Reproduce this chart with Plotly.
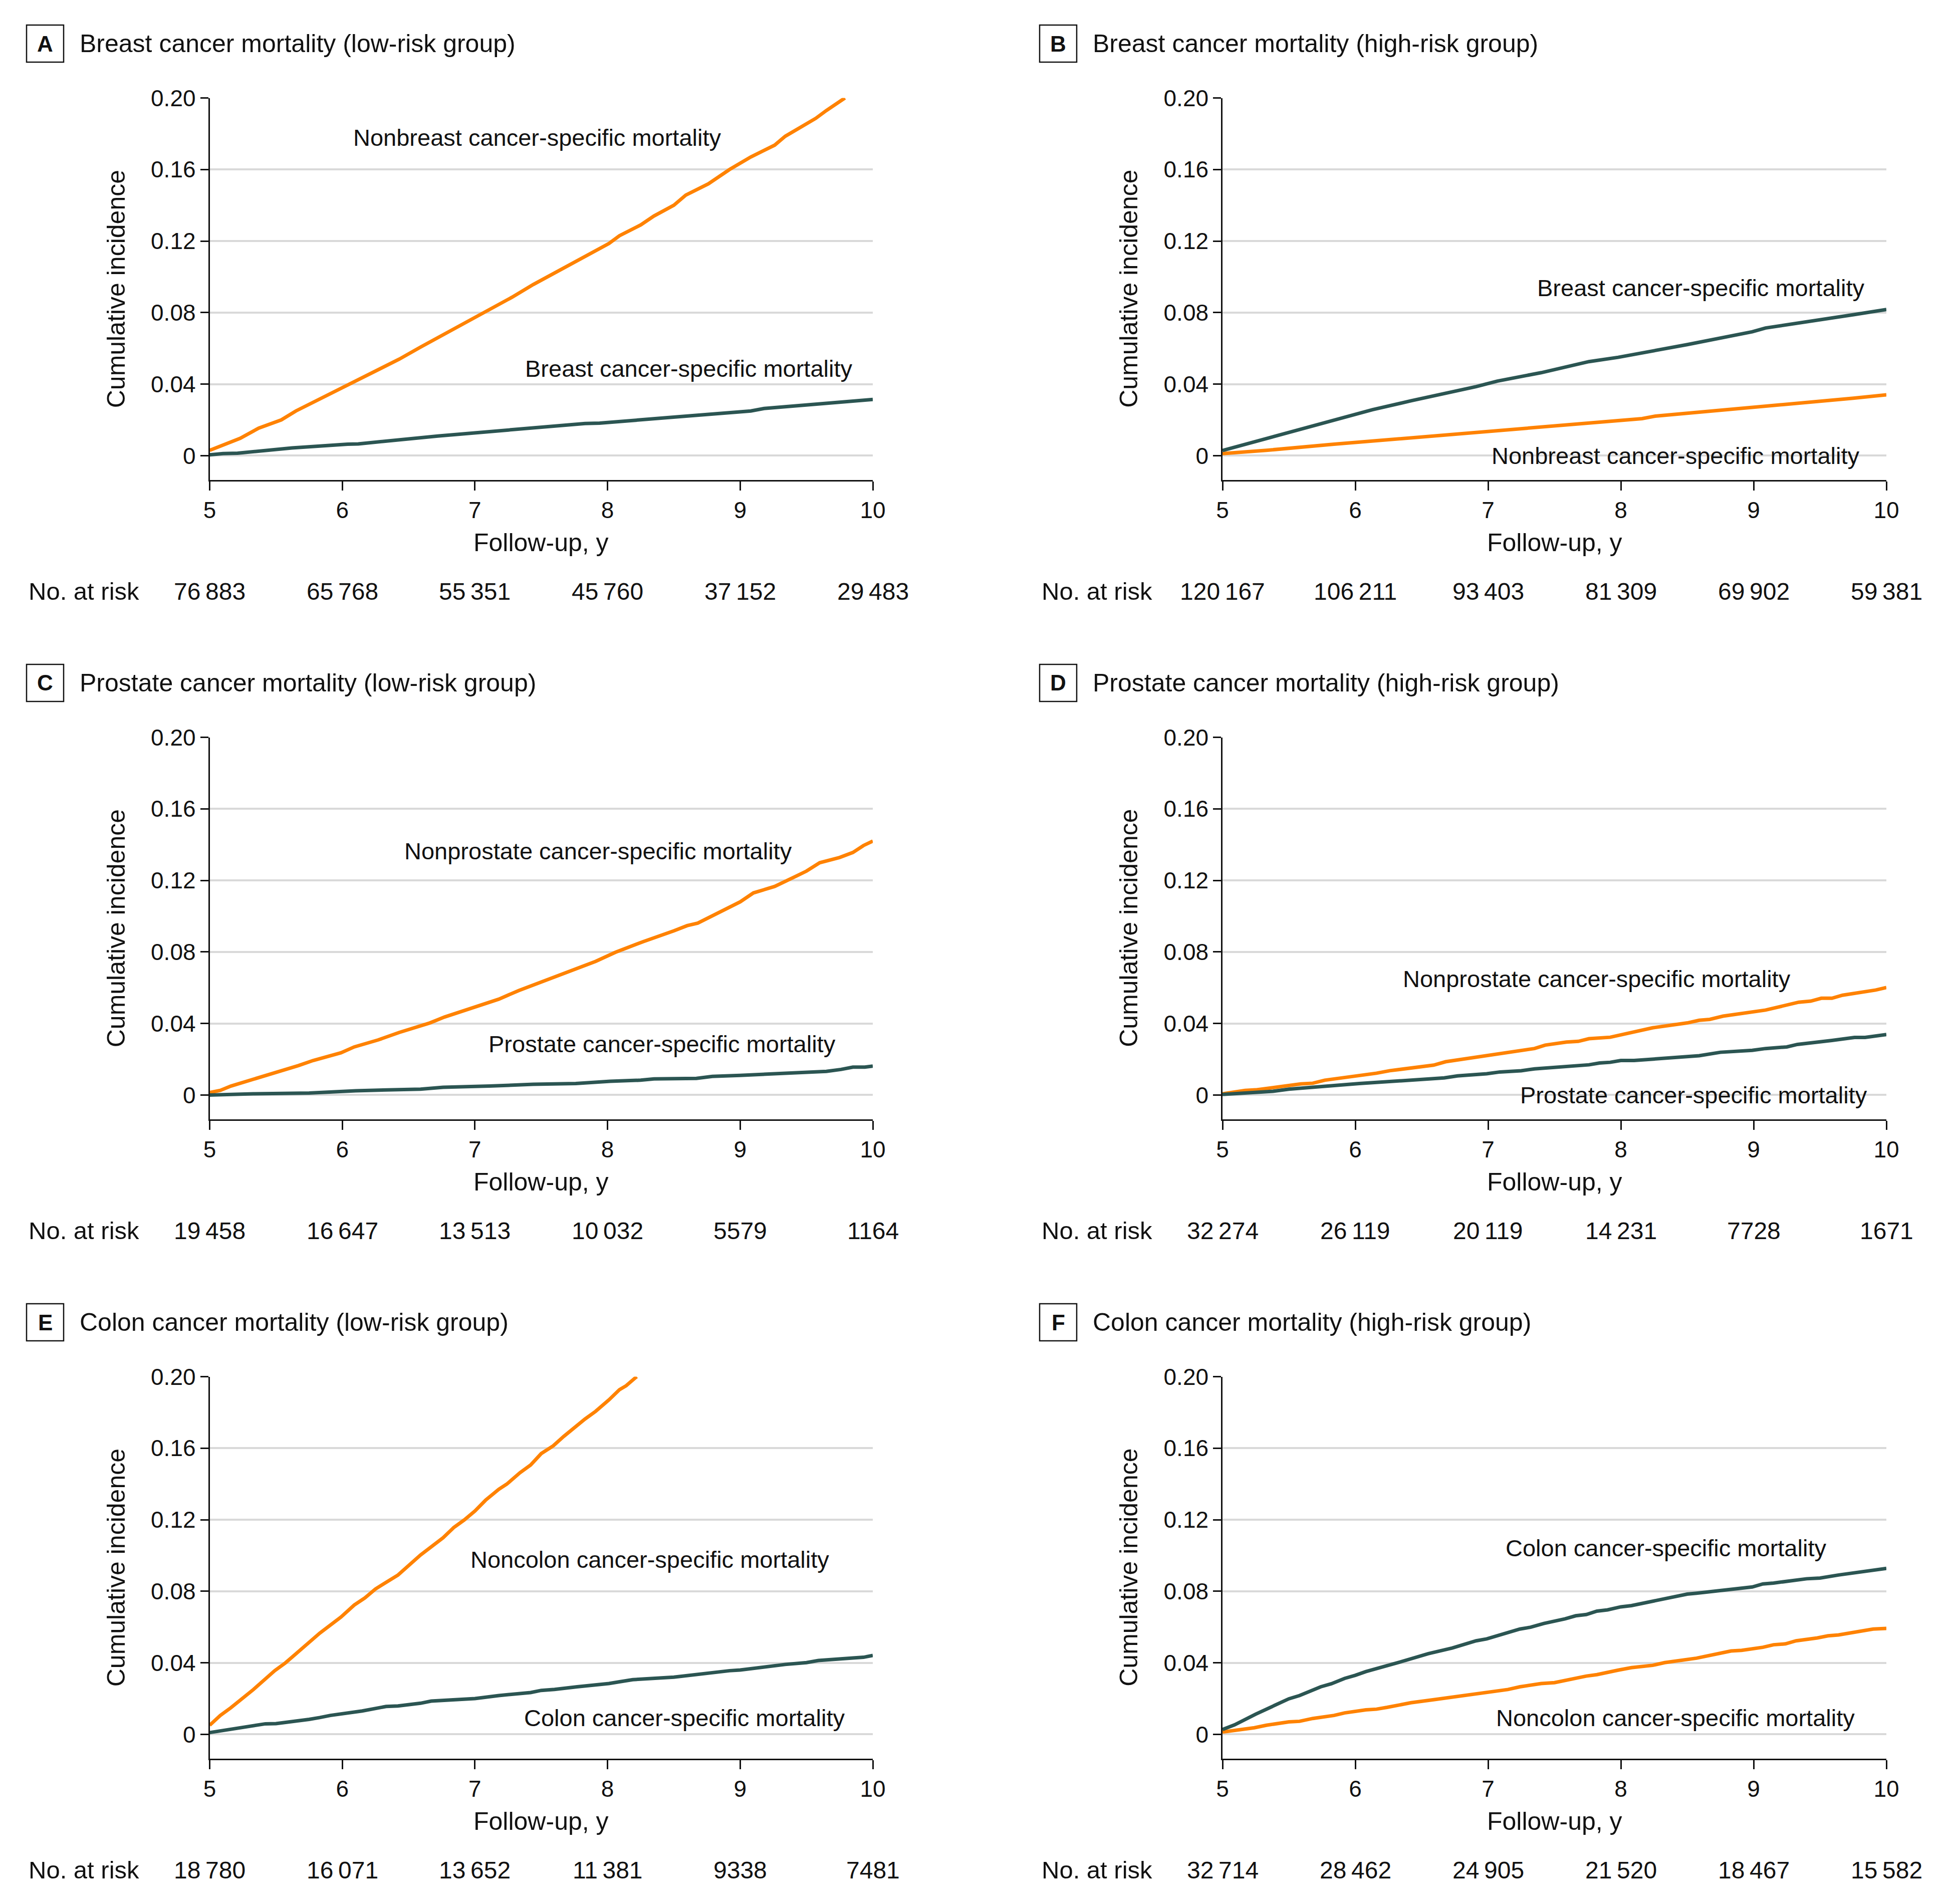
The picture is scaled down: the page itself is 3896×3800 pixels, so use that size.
import plotly.graph_objects as go

# ---------------- data ----------------
years = [5, 6, 7, 8, 9, 10]
y_ticks = [0, 0.04, 0.08, 0.12, 0.16, 0.20]
y_tick_text = ["0", "0.04", "0.08", "0.12", "0.16", "0.20"]

panel_letters = ["A", "B", "C", "D", "E", "F"]
panel_titles = [
    "Breast cancer mortality (low-risk group)",
    "Breast cancer mortality (high-risk group)",
    "Prostate cancer mortality (low-risk group)",
    "Prostate cancer mortality (high-risk group)",
    "Colon cancer mortality (low-risk group)",
    "Colon cancer mortality (high-risk group)",
]

at_risk = [
    ["76\u2009883", "65\u2009768", "55\u2009351", "45\u2009760", "37\u2009152", "29\u2009483"],
    ["120\u2009167", "106\u2009211", "93\u2009403", "81\u2009309", "69\u2009902", "59\u2009381"],
    ["19\u2009458", "16\u2009647", "13\u2009513", "10\u2009032", "5579", "1164"],
    ["32\u2009274", "26\u2009119", "20\u2009119", "14\u2009231", "7728", "1671"],
    ["18\u2009780", "16\u2009071", "13\u2009652", "11\u2009381", "9338", "7481"],
    ["32\u2009714", "28\u2009462", "24\u2009905", "21\u2009520", "18\u2009467", "15\u2009582"],
]

# Panel A
a_other_x = [5.0, 5.23, 5.37, 5.54, 5.65, 5.86, 6.01, 6.11, 6.27, 6.43, 6.59, 6.77, 6.87, 6.95, 7.05, 7.28, 7.44,
             7.6, 7.77, 8.01, 8.09, 8.25, 8.35, 8.5, 8.59, 8.76, 8.92, 9.08, 9.26, 9.34, 9.57, 9.65, 9.79]
a_other_y = [0.003, 0.0097, 0.0154, 0.020, 0.025, 0.0329, 0.0386, 0.042, 0.048, 0.054, 0.0607, 0.0679, 0.072, 0.075,
             0.079, 0.0886, 0.0957, 0.102, 0.109, 0.1186, 0.123, 0.129, 0.134, 0.140, 0.1457, 0.152, 0.160, 0.167,
             0.1736, 0.1786, 0.1886, 0.193, 0.200]
a_spec_x = [5.0, 5.1, 5.21, 5.62, 6.04, 6.12, 6.72, 7.08, 7.83, 7.94, 8.42, 8.51, 9.08, 9.18, 10.0]
a_spec_y = [0.0005, 0.0012, 0.0014, 0.0043, 0.0064, 0.0066, 0.011, 0.0133, 0.018, 0.0182, 0.0214, 0.0216, 0.025,
            0.0264, 0.0314]

# Panel B
b_spec_x = [5.0, 5.38, 5.77, 6.13, 6.42, 6.65, 6.91, 7.07, 7.4, 7.76, 7.98, 8.5, 8.73, 8.99, 9.09, 9.5, 9.76, 10.0]
b_spec_y = [0.0029, 0.0107, 0.0186, 0.0257, 0.0307, 0.0343, 0.0386, 0.0417, 0.0464, 0.0526, 0.055, 0.0621, 0.0657,
            0.0693, 0.0714, 0.0757, 0.0789, 0.0817]
b_other_x = [5.0, 5.25, 5.33, 5.84, 6.75, 6.85, 8.16, 8.26, 9.02, 9.67, 9.75, 10.0]
b_other_y = [0.0012, 0.0029, 0.0030, 0.0064, 0.0121, 0.0123, 0.0207, 0.0221, 0.0271, 0.0311, 0.0321, 0.034]

# Panel C
c_other_x = [5.0, 5.08, 5.16, 5.39, 5.5, 5.67, 5.78, 5.99, 6.09, 6.27, 6.43, 6.59, 6.66, 6.77, 7.08, 7.18, 7.33, 7.6,
             7.77, 7.91, 8.06, 8.17, 8.27, 8.5, 8.6, 8.68, 8.81, 9.0, 9.1, 9.26, 9.42, 9.5, 9.6, 9.75, 9.85, 9.93, 10.0]
c_other_y = [0.0014, 0.0026, 0.005, 0.010, 0.0129, 0.0165, 0.0193, 0.0236, 0.0269, 0.0308, 0.035, 0.0386, 0.0403,
             0.0436, 0.0515, 0.0536, 0.0584, 0.0658, 0.0708, 0.0747, 0.0798, 0.083, 0.0858, 0.0918, 0.0947, 0.0961,
             0.1009, 0.108, 0.113, 0.1166, 0.1223, 0.1252, 0.1299, 0.1328, 0.1356, 0.1395, 0.142]
c_spec_x = [5.0, 5.33, 5.75, 5.94, 6.1, 6.59, 6.76, 7.11, 7.44, 7.76, 8.02, 8.25, 8.35, 8.67, 8.79, 9.0, 9.36, 9.65,
            9.76, 9.85, 9.94, 10.0]
c_spec_y = [0.0, 0.0007, 0.0011, 0.0017, 0.0024, 0.0033, 0.0043, 0.005, 0.006, 0.0064, 0.0077, 0.0083, 0.009, 0.0093,
            0.0104, 0.011, 0.012, 0.0132, 0.0143, 0.0156, 0.0156, 0.0162]

# Panel D
d_other_x = [5.0, 5.17, 5.25, 5.42, 5.5, 5.59, 5.68, 5.77, 6.0, 6.1, 6.16, 6.26, 6.59, 6.68, 6.98, 7.17, 7.25, 7.35,
             7.43, 7.59, 7.68, 7.76, 7.92, 8.08, 8.24, 8.5, 8.59, 8.67, 8.77, 9.09, 9.25, 9.34, 9.43, 9.51, 9.59, 9.67,
             9.92, 10.0]
d_other_y = [0.0007, 0.0026, 0.0029, 0.0046, 0.0052, 0.0062, 0.0066, 0.0083, 0.0106, 0.0113, 0.0122, 0.0136, 0.0167,
             0.0186, 0.0217, 0.024, 0.0246, 0.026, 0.0279, 0.0296, 0.030, 0.0315, 0.0323, 0.035, 0.0376, 0.0403, 0.0418,
             0.0423, 0.0441, 0.0475, 0.050, 0.0519, 0.0525, 0.0541, 0.0541, 0.0558, 0.0587, 0.0601]
d_spec_x = [5.0, 5.38, 5.5, 5.77, 6.03, 6.67, 6.77, 6.99, 7.09, 7.25, 7.35, 7.76, 7.84, 7.92, 8.0, 8.1, 8.34, 8.42,
            8.5, 8.59, 8.75, 8.99, 9.09, 9.25, 9.33, 9.41, 9.51, 9.59, 9.76, 9.84, 10.0]
d_spec_y = [0.0003, 0.0021, 0.0033, 0.005, 0.0064, 0.0096, 0.0107, 0.0119, 0.0129, 0.0136, 0.0146, 0.0169, 0.0179,
            0.0183, 0.0193, 0.0193, 0.0206, 0.0206, 0.0215, 0.022, 0.0239, 0.025, 0.026, 0.0269, 0.0283, 0.0289, 0.030,
            0.0305, 0.0322, 0.0322, 0.0338]

# Panel E
e_other_x = [5.0, 5.08, 5.16, 5.33, 5.49, 5.57, 5.67, 5.83, 5.99, 6.09, 6.17, 6.25, 6.42, 6.59, 6.76, 6.84, 6.92,
             7.0, 7.08, 7.18, 7.24, 7.34, 7.42, 7.5, 7.59, 7.67, 7.83, 7.91, 8.01, 8.09, 8.14, 8.22]
e_other_y = [0.0051, 0.0106, 0.0149, 0.0251, 0.0356, 0.0399, 0.0463, 0.0566, 0.0656, 0.0723, 0.0763, 0.0813, 0.0891,
             0.1003, 0.1099, 0.1156, 0.1199, 0.1249, 0.1309, 0.137, 0.1399, 0.1463, 0.1506, 0.157, 0.1613, 0.1666,
             0.1763, 0.1806, 0.187, 0.1927, 0.1949, 0.200]
e_spec_x = [5.0, 5.33, 5.42, 5.5, 5.59, 5.67, 5.75, 5.83, 5.91, 6.15, 6.24, 6.33, 6.42, 6.59, 6.67, 6.76, 6.84, 6.92,
            7.0, 7.18, 7.26, 7.34, 7.42, 7.5, 7.6, 7.77, 7.83, 7.93, 8.01, 8.09, 8.19, 8.5, 8.68, 8.76, 8.92, 9.0, 9.2,
            9.34, 9.5, 9.59, 9.85, 9.93, 10.0]
e_spec_y = [0.001, 0.0046, 0.0059, 0.006, 0.0069, 0.0073, 0.0084, 0.0094, 0.0106, 0.0131, 0.0146, 0.0156, 0.0159,
            0.0174, 0.0186, 0.0189, 0.0196, 0.0196, 0.020, 0.0217, 0.0223, 0.0231, 0.0234, 0.0246, 0.0251, 0.0266,
            0.027, 0.028, 0.0284, 0.0294, 0.0306, 0.032, 0.0337, 0.0341, 0.0356, 0.036, 0.038, 0.0391, 0.0401, 0.0413,
            0.0427, 0.0431, 0.0441]

# Panel F
f_spec_x = [5.0, 5.09, 5.25, 5.42, 5.5, 5.58, 5.66, 5.74, 5.82, 5.92, 6.0, 6.08, 6.33, 6.55, 6.73, 6.91, 6.99, 7.24,
            7.32, 7.42, 7.58, 7.66, 7.74, 7.82, 7.9, 8.0, 8.08, 8.24, 8.41, 8.5, 8.57, 8.83, 8.91, 8.99, 9.07, 9.15,
            9.4, 9.5, 9.64, 9.9, 10.0]
f_spec_y = [0.0027, 0.0053, 0.0113, 0.017, 0.0199, 0.0217, 0.0244, 0.0266, 0.0283, 0.0313, 0.033, 0.0351, 0.0403,
            0.0451, 0.0483, 0.0523, 0.0534, 0.0589, 0.0599, 0.062, 0.0646, 0.0663, 0.067, 0.0689, 0.0696, 0.0713,
            0.072, 0.0746, 0.0774, 0.0784, 0.0789, 0.0813, 0.0817, 0.0824, 0.0841, 0.0846, 0.087, 0.0874, 0.0891,
            0.0917, 0.0928]
f_other_x = [5.0, 5.24, 5.33, 5.5, 5.58, 5.68, 5.84, 5.92, 6.08, 6.16, 6.24, 6.33, 6.42, 6.59, 6.75, 6.91, 7.07,
             7.15, 7.24, 7.4, 7.5, 7.58, 7.66, 7.74, 7.82, 7.9, 7.98, 8.08, 8.24, 8.33, 8.57, 8.83, 8.91, 9.07, 9.15,
             9.24, 9.32, 9.48, 9.56, 9.64, 9.82, 9.9, 10.0]
f_other_y = [0.0013, 0.0037, 0.0051, 0.007, 0.0073, 0.0089, 0.0106, 0.012, 0.0137, 0.0141, 0.0151, 0.0166, 0.0177,
             0.0194, 0.0211, 0.0229, 0.0246, 0.0251, 0.0266, 0.0284, 0.0289, 0.0303, 0.0313, 0.0326, 0.0334, 0.0349,
             0.0359, 0.0373, 0.0386, 0.0401, 0.0426, 0.0466, 0.047, 0.0487, 0.0501, 0.0506, 0.0523, 0.0539, 0.0551,
             0.0556, 0.0577, 0.0589, 0.0592]

specific_series = [(a_spec_x, a_spec_y), (b_spec_x, b_spec_y), (c_spec_x, c_spec_y),
                   (d_spec_x, d_spec_y), (e_spec_x, e_spec_y), (f_spec_x, f_spec_y)]
other_series = [(a_other_x, a_other_y), (b_other_x, b_other_y), (c_other_x, c_other_y),
                (d_other_x, d_other_y), (e_other_x, e_other_y), (f_other_x, f_other_y)]

specific_labels = ["Breast cancer-specific mortality", "Breast cancer-specific mortality",
                   "Prostate cancer-specific mortality", "Prostate cancer-specific mortality",
                   "Colon cancer-specific mortality", "Colon cancer-specific mortality"]
other_labels = ["Nonbreast cancer-specific mortality", "Nonbreast cancer-specific mortality",
                "Nonprostate cancer-specific mortality", "Nonprostate cancer-specific mortality",
                "Noncolon cancer-specific mortality", "Noncolon cancer-specific mortality"]

# ---------------- styling / layout ----------------
W, H = 3896, 3800
FONT = "Liberation Sans, Arial, sans-serif"
ORANGE = "#FF8200"
DARK = "#2B5552"
GRID = "#D9D9D9"

# label positions (data coords) for (specific, other) labels per panel
spec_label_pos = [(8.61, 0.0486), (8.60, 0.0937), (8.41, 0.0286), (8.55, 0.0), (8.58, 0.0093), (8.34, 0.1041)]
other_label_pos = [(7.47, 0.178), (8.41, 0.0), (7.93, 0.1364), (7.82, 0.065), (8.32, 0.0977), (8.41, 0.0093)]

col_px = [(418.5, 1742.0), (2440.0, 3765.0)]
row_top_px = [195.5, 1471.5, 2747.5]   # y = 0.20
row_bot_px = [958.0, 2234.0, 3510.0]   # x-axis line
YMIN = -0.0136


def px(xp):
    return xp / W


def py(yp):
    return 1 - yp / H


fig = go.Figure()
annotations = []
shapes = []
layout = {}

for i in range(6):
    r, c = divmod(i, 2)
    n = i + 1
    xa = "x" if n == 1 else f"x{n}"
    ya = "y" if n == 1 else f"y{n}"
    xl0, xl1 = col_px[c]
    top, bot = row_top_px[r], row_bot_px[r]

    layout[f"xaxis{'' if n == 1 else n}"] = dict(
        domain=[px(xl0), px(xl1)], anchor=ya, range=[5, 10], automargin=False,
        tickvals=years, ticktext=[str(v) for v in years],
        showline=True, linecolor="#111111", linewidth=3,
        ticks="outside", ticklen=18, tickwidth=2.5, tickcolor="#111111",
        showgrid=False, zeroline=False,
        tickfont=dict(family=FONT, size=46, color="#111111"),
    )
    layout[f"yaxis{'' if n == 1 else n}"] = dict(
        domain=[py(bot), py(top)], anchor=xa, range=[YMIN, 0.20], automargin=False,
        tickvals=y_ticks, ticktext=y_tick_text,
        showline=True, linecolor="#111111", linewidth=2.5,
        ticks="outside", ticklen=16, tickwidth=2.5, tickcolor="#111111",
        showgrid=True, gridcolor=GRID, gridwidth=4, zeroline=False,
        tickfont=dict(family=FONT, size=46, color="#111111"),
    )

    sx, sy = specific_series[i]
    ox, oy = other_series[i]
    fig.add_trace(go.Scatter(x=ox, y=oy, mode="lines", line=dict(color=ORANGE, width=7),
                             xaxis=xa, yaxis=ya, showlegend=False, hoverinfo="skip"))
    fig.add_trace(go.Scatter(x=sx, y=sy, mode="lines", line=dict(color=DARK, width=7),
                             xaxis=xa, yaxis=ya, showlegend=False, hoverinfo="skip"))

    # curve labels
    for text, (lx, ly) in ((specific_labels[i], spec_label_pos[i]), (other_labels[i], other_label_pos[i])):
        annotations.append(dict(x=lx, y=ly, xref=xa, yref=ya, text=text, showarrow=False,
                                xanchor="center", yanchor="middle",
                                font=dict(family=FONT, size=47, color="#111111")))

    # panel title with letter box
    dy = r * 1276
    box_l = 53 if c == 0 else 2075
    shapes.append(dict(type="rect", xref="paper", yref="paper",
                       x0=px(box_l), x1=px(box_l + 74), y0=py(50 + dy + 74), y1=py(50 + dy),
                       line=dict(color="#111111", width=2.5), fillcolor="white"))
    annotations.append(dict(x=px(box_l + 37), y=py(87 + dy), xref="paper", yref="paper",
                            text=f"<b>{panel_letters[i]}</b>", showarrow=False,
                            xanchor="center", yanchor="middle",
                            font=dict(family=FONT, size=44, color="#111111")))
    annotations.append(dict(x=px(box_l + 104), y=py(87 + dy), xref="paper", yref="paper",
                            text=panel_titles[i], showarrow=False,
                            xanchor="left", yanchor="middle",
                            font=dict(family=FONT, size=50, color="#111111")))

    # axis titles
    annotations.append(dict(x=px(xl0 - 187), y=py((top + bot) / 2), xref="paper", yref="paper",
                            text="Cumulative incidence", textangle=-90, showarrow=False,
                            xanchor="center", yanchor="middle",
                            font=dict(family=FONT, size=50, color="#111111")))
    annotations.append(dict(x=px((xl0 + xl1) / 2), y=py(1083 + dy), xref="paper", yref="paper",
                            text="Follow-up, y", showarrow=False,
                            xanchor="center", yanchor="middle",
                            font=dict(family=FONT, size=50, color="#111111")))

    # number at risk
    annotations.append(dict(x=px(box_l + 2), y=py(1180 + dy), xref="paper", yref="paper",
                            text="No. at risk", showarrow=False,
                            xanchor="left", yanchor="middle",
                            font=dict(family=FONT, size=49, color="#111111")))
    for yr, val in zip(years, at_risk[i]):
        annotations.append(dict(x=yr, y=py(1180 + dy), xref=xa, yref="paper",
                                text=val, showarrow=False,
                                xanchor="center", yanchor="middle",
                                font=dict(family=FONT, size=48, color="#111111")))

fig.update_layout(
    template="none",
    width=W, height=H, autosize=False,
    margin=dict(l=0, r=0, t=0, b=0, pad=0, autoexpand=False),
    paper_bgcolor="white", plot_bgcolor="white",
    showlegend=False,
    annotations=annotations, shapes=shapes,
    **layout,
)

fig.write_html("out.html", config={"responsive": False, "displayModeBar": False},
               post_script="document.body.style.margin='0';document.body.style.overflow='hidden';")
